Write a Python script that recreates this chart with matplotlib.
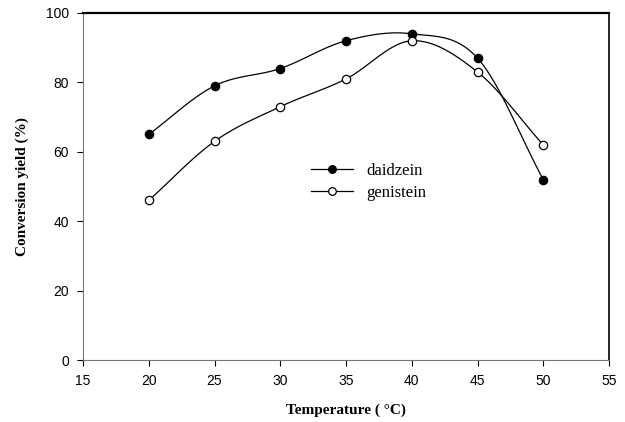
import numpy as np
import matplotlib.pyplot as plt

temps = [20, 25, 30, 35, 40, 45, 50]
daidzein = [65, 79, 84, 92, 94, 87, 52]
genistein = [46, 63, 73, 81, 92, 83, 62]


def smooth(x, y, n=20):
    # Catmull-Rom curve through the measured points
    x = np.asarray(x, float)
    y = np.asarray(y, float)
    px = np.concatenate([[2 * x[0] - x[1]], x, [2 * x[-1] - x[-2]]])
    py = np.concatenate([[2 * y[0] - y[1]], y, [2 * y[-1] - y[-2]]])
    t = np.linspace(0, 1, n)
    xs, ys = [], []
    for i in range(1, len(px) - 2):
        for p, out in ((px, xs), (py, ys)):
            p0, p1, p2, p3 = p[i - 1], p[i], p[i + 1], p[i + 2]
            out.extend(0.5 * (2 * p1 + (-p0 + p2) * t
                              + (2 * p0 - 5 * p1 + 4 * p2 - p3) * t ** 2
                              + (-p0 + 3 * p1 - 3 * p2 + p3) * t ** 3))
    return xs, ys


fig = plt.figure(figsize=(6.25, 4.22), dpi=100)
ax = fig.add_axes([0.1328, 0.1469, 0.8416, 0.8223])

for vals, face, name in ((daidzein, 'black', 'daidzein'), (genistein, 'white', 'genistein')):
    sx, sy = smooth(temps, vals)
    ax.plot(sx, sy, color='black', lw=0.9)
    ax.plot(temps, vals, 'o', ms=6, mfc=face, mec='black', mew=0.9, ls='none')
    ax.plot([], [], color='black', lw=0.9, marker='o', ms=5.5, mfc=face,
            mec='black', mew=0.9, label=name)

ax.set_xlim(15, 55)
ax.set_ylim(0, 100)
ax.set_xticks(range(15, 56, 5))
ax.set_yticks(range(0, 101, 20))
ax.tick_params(direction='out', length=4, width=0.8, labelsize=10, pad=6)
for lab in ax.get_xticklabels() + ax.get_yticklabels():
    lab.set_family('Liberation Sans')

ax.spines['left'].set_color('#777777')
ax.spines['bottom'].set_color('#777777')
ax.spines['top'].set_linewidth(1.6)
ax.spines['right'].set_linewidth(1.2)

ax.set_xlabel('Temperature ( °C)', family='Liberation Serif', fontweight='bold',
              fontsize=11, labelpad=11)
ax.set_ylabel('Conversion yield (%)', family='Liberation Serif', fontweight='bold',
              fontsize=11, labelpad=12)

ax.legend(loc='upper left', bbox_to_anchor=(0.405, 0.61), frameon=False,
          prop={'family': 'Liberation Serif', 'size': 12}, handlelength=2.5,
          labelspacing=0.35)

fig.savefig('out.png', dpi=100)
